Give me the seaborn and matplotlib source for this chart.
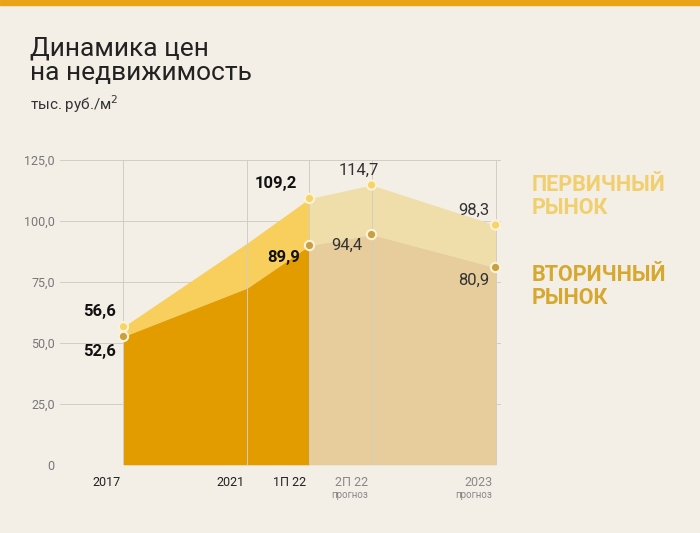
import matplotlib
matplotlib.use("Agg")
import matplotlib.pyplot as plt
import seaborn as sns
import pandas as pd

# x positions are proportional to time spacing on the original chart
periods = ["2017", "2021", "1П 22", "2П 22", "2023"]
period_x = [0, 2, 3, 4, 6]
primary = [56.6, 91.0, 109.2, 114.7, 98.3]
secondary = [52.6, 72.5, 89.9, 94.4, 80.9]
label_idx = [0, 2, 3, 4]  # 2021 has no marker/label
yticks = [0, 25, 50, 75, 100, 125]

BG = "#f3efe7"
sns.set_theme(style="white")
plt.rcParams["font.family"] = ["Roboto", "DejaVu Sans"]

fig = plt.figure(figsize=(7, 5.33), dpi=100, facecolor=BG)
ax = fig.add_axes([0.086, 0.128, 0.629, 0.572], facecolor=BG)

# actual part (2017 .. 1П 22)
xa, pa, sa = period_x[:3], primary[:3], secondary[:3]
ax.fill_between(xa, sa, pa, color="#f8cf5c", lw=0, zorder=2)
ax.fill_between(xa, 0, sa, color="#e39c00", lw=0, zorder=2)
# forecast part (1П 22 .. 2023)
xf, pf, sf = period_x[2:], primary[2:], secondary[2:]
ax.fill_between(xf, sf, pf, color="#f0deaa", lw=0, zorder=2)
ax.fill_between(xf, 0, sf, color="#e7cd9c", lw=0, zorder=2)

pts = pd.DataFrame({"x": [period_x[i] for i in label_idx] * 2,
                    "y": [primary[i] for i in label_idx] + [secondary[i] for i in label_idx],
                    "kind": ["p"] * 4 + ["s"] * 4})
sns.scatterplot(data=pts, x="x", y="y", hue="kind", palette={"p": "#f7d46a", "s": "#c9a040"},
                s=45, edgecolor="#fbf3d8", linewidth=1.5, legend=False, ax=ax, zorder=5)

for y in yticks:
    ax.axhline(y, color="#d2cdc4", lw=0.7, zorder=1)
for x in period_x:
    ax.axvline(x, color="#d2cdc4", lw=0.7, zorder=3)

ax.set_xlim(-1.02, 6.08)
ax.set_ylim(0, 125)
ax.set_yticks(yticks)
ax.set_yticklabels(["0"] + [f"{v:,.1f}".replace(".", ",") for v in yticks[1:]],
                   color="#777", fontsize=9)
ax.set_xticks([])
ax.set_xlabel("")
ax.set_ylabel("")
for s in ax.spines.values():
    s.set_visible(False)
ax.tick_params(axis="y", length=0, pad=4)

# x tick labels
for i, (x, lab) in enumerate(zip(period_x, periods)):
    col = "#222" if i < 3 else "#888"
    ax.text(x - 0.05, -4.5, lab, ha="right", va="top", fontsize=9, color=col)
    if i >= 3:
        ax.text(x - 0.05, -10.5, "прогноз", ha="right", va="top", fontsize=7, color="#888")

# value labels
bold = dict(fontsize=12, fontweight="bold", color="#111")
light = dict(fontsize=12, color="#333")
ax.text(period_x[0] - 0.12, primary[0] + 3, "56,6", ha="right", va="bottom", **bold)
ax.text(period_x[0] - 0.12, secondary[0] - 3, "52,6", ha="right", va="top", **bold)
ax.text(period_x[2] - 0.2, primary[2] + 3, "109,2", ha="right", va="bottom", **bold)
ax.text(period_x[2] - 0.15, secondary[2] - 2, "89,9", ha="right", va="top", **bold)
ax.text(period_x[3] - 0.2, primary[3] + 3, "114,7", ha="center", va="bottom", **light)
ax.text(period_x[3] - 0.15, secondary[3] - 1.5, "94,4", ha="right", va="top", **light)
ax.text(period_x[4] - 0.1, primary[4] + 3, "98,3", ha="right", va="bottom", **light)
ax.text(period_x[4] - 0.1, secondary[4] - 2, "80,9", ha="right", va="top", **light)

# legend-like labels
fig.text(0.76, 0.59, "ПЕРВИЧНЫЙ\nРЫНОК", fontsize=15.5, fontweight="bold", color="#f0cf6c",
         va="bottom", linespacing=1.05)
fig.text(0.76, 0.42, "ВТОРИЧНЫЙ\nРЫНОК", fontsize=15.5, fontweight="bold", color="#d6a830",
         va="bottom", linespacing=1.05)

# title
fig.text(0.043, 0.84, "Динамика цен\nна недвижимость", fontsize=19, color="#222", va="bottom",
         linespacing=1.05)
fig.text(0.043, 0.785, "тыс. руб./м$^2$", fontsize=11, color="#333", va="bottom")

# top orange band
fig.patches.append(plt.Rectangle((0, 0.99), 1, 0.01, transform=fig.transFigure,
                                 color="#e8a317", zorder=10))

fig.savefig("out.png", dpi=100, facecolor=BG)
